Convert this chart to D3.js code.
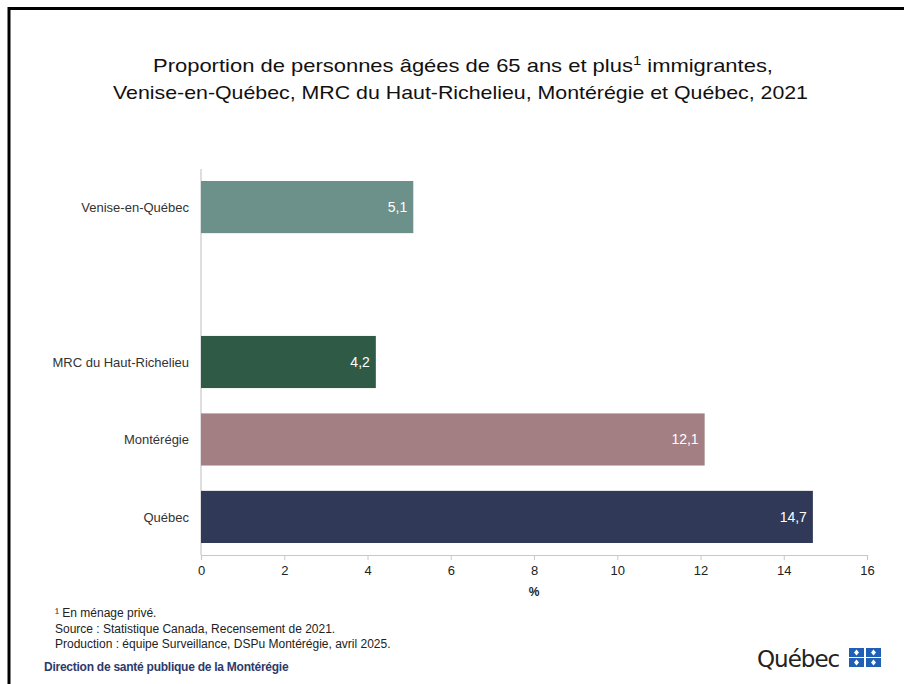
<!DOCTYPE html>
<html><head><meta charset="utf-8">
<script src="https://cdn.jsdelivr.net/npm/d3@7/dist/d3.min.js"></script>
<style>body{margin:0;background:#fff}svg{display:block}</style>
</head><body>
<script>
const categories = ["Venise-en-Québec", " ", "MRC du Haut-Richelieu", "Montérégie", "Québec"];
const values = [5.1, null, 4.2, 12.1, 14.7];
const colors = ["#6b918a", null, "#2f5a45", "#a37f83", "#303a58"];
const xTicks = [0, 2, 4, 6, 8, 10, 12, 14, 16];
const titleLines = ["Proportion de personnes âgées de 65 ans et plus", "Venise-en-Québec, MRC du Haut-Richelieu, Montérégie et Québec, 2021"];
const notes = ["¹ En ménage privé.", "Source : Statistique Canada, Recensement de 2021.", "Production : équipe Surveillance, DSPu Montérégie, avril 2025."];

const W = 904, H = 684;
const svg = d3.select("body").append("svg").attr("width", W).attr("height", H);
svg.append("rect").attr("width", W).attr("height", H).attr("fill", "#fff");

// frame
svg.append("path").attr("d", `M9,${H} V8.5 H${W}`).attr("fill", "none").attr("stroke", "#000").attr("stroke-width", 3);

// title
const tfont = "'Liberation Sans',Arial,sans-serif";
const t1 = svg.append("text").attr("x", 153).attr("y", 72)
  .attr("textLength", 620).attr("lengthAdjust", "spacingAndGlyphs")
  .attr("font-family", tfont).attr("font-size", 18.5).attr("fill", "#111");
t1.append("tspan").text(titleLines[0]);
t1.append("tspan").attr("dy", -7).attr("font-size", 12.5).text("1");
t1.append("tspan").attr("dy", 7).text(" immigrantes,");
svg.append("text").attr("x", 113).attr("y", 99)
  .attr("textLength", 695).attr("lengthAdjust", "spacingAndGlyphs")
  .attr("font-family", tfont).attr("font-size", 18.5).attr("fill", "#111").text(titleLines[1]);

const x = d3.scaleLinear().domain([0, 16]).range([201, 867]);
const y = d3.scaleBand().domain(categories).range([169, 555]).paddingInner(0.327).paddingOuter(0.155);

const font = "'Liberation Sans',Arial,sans-serif";

// y axis line
svg.append("line").attr("x1", 201).attr("x2", 201).attr("y1", 169).attr("y2", 555)
  .attr("stroke", "#c8c8c8").attr("stroke-width", 1.2);

// bars
const data = categories.map((c, i) => ({c, v: values[i], col: colors[i]})).filter(d => d.v != null);
svg.selectAll("rect.bar").data(data).enter().append("rect").attr("class", "bar")
  .attr("x", x(0)).attr("y", d => y(d.c)).attr("width", d => x(d.v) - x(0)).attr("height", y.bandwidth())
  .attr("fill", d => d.col);

svg.selectAll("text.val").data(data).enter().append("text").attr("class", "val")
  .attr("x", d => x(d.v) - 6).attr("y", d => y(d.c) + y.bandwidth() / 2 + 5)
  .attr("text-anchor", "end").attr("font-family", font).attr("font-size", 14).attr("fill", "#fff")
  .text(d => d3.format(".1f")(d.v).replace(".", ","));

// category labels
svg.selectAll("text.cat").data(data).enter().append("text").attr("class", "cat")
  .attr("x", 189).attr("y", d => y(d.c) + y.bandwidth() / 2 + 5)
  .attr("text-anchor", "end").attr("font-family", font).attr("font-size", 13).attr("fill", "#333")
  .text(d => d.c);

// x axis
const xa = svg.append("g").attr("transform", "translate(0,555)")
  .call(d3.axisBottom(x).tickValues(xTicks).tickSize(5).tickPadding(6).tickFormat(d3.format("d")));
xa.select(".domain").attr("stroke", "#c8c8c8").attr("stroke-width", 1.2);
xa.selectAll(".tick line").attr("stroke", "#c8c8c8");
xa.selectAll("text").attr("font-family", font).attr("font-size", 13).attr("fill", "#222");
svg.append("text").attr("x", x(8)).attr("y", 596).attr("text-anchor", "middle")
  .attr("font-family", font).attr("font-size", 12).attr("font-weight", "bold").attr("fill", "#222").text("%");

// notes
svg.selectAll("text.note").data(notes).enter().append("text").attr("class", "note")
  .attr("x", 55).attr("y", (d, i) => 617 + i * 15.5)
  .attr("font-family", font).attr("font-size", 12).attr("fill", "#222").text(d => d);

svg.append("text").attr("x", 44).attr("y", 671).attr("font-family", font).attr("font-size", 12)
  .attr("font-weight", "bold").attr("letter-spacing", -0.25).attr("fill", "#2e3a6a")
  .text("Direction de santé publique de la Montérégie");

// Québec logo
svg.append("text").attr("x", 757).attr("y", 667).attr("font-family", "'DejaVu Sans',sans-serif")
  .attr("font-size", 23).attr("letter-spacing", -1).attr("fill", "#222").text("Québec");
const lg = svg.append("g").attr("transform", "translate(849,648)");
[[0,0],[17,0],[0,10],[17,10]].forEach(([dx, dy]) => {
  lg.append("rect").attr("x", dx).attr("y", dy).attr("width", 15).attr("height", 9).attr("fill", "#1f5fb5");
  lg.append("path").attr("d", `M${dx+7.5},${dy+1.5} l2.5,3 l-2.5,3 l-2.5,-3 z`).attr("fill", "#fff");
});
</script>
</body></html>
